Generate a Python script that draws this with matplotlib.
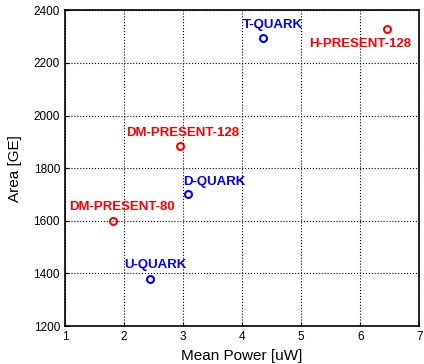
import matplotlib.pyplot as plt

plt.rcParams['font.family'] = ['Liberation Sans', 'DejaVu Sans']

names = ["T-QUARK", "H-PRESENT-128", "DM-PRESENT-128", "D-QUARK", "DM-PRESENT-80", "U-QUARK"]
power = [4.35, 6.45, 2.95, 3.09, 1.82, 2.44]
area = [2295, 2328, 1884, 1702, 1600, 1379]
colors = ["blue", "red", "red", "blue", "red", "blue"]
# label offsets in points (dx, dy)
offsets = [(7, 9.5), (-19, -11), (1.5, 9.5), (19, 8.5), (6, 10), (4, 10)]

fig = plt.figure(figsize=(4.24, 3.64), dpi=100)
ax = fig.add_axes([0.153, 0.104, 0.836, 0.868])

for x, y, n, c, off in zip(power, area, names, colors, offsets):
    ax.plot(x, y, 'o', mfc='none', mec=c, ms=5, mew=1.5)
    ax.annotate(n, (x, y), xytext=off, textcoords='offset points',
                ha='center', va='center', color=c, fontsize=9.5, fontweight='bold')

ax.set_xlim(1, 7)
ax.set_ylim(1200, 2400)
ax.set_xticks(range(1, 8))
ax.set_yticks(range(1200, 2401, 200))
ax.grid(True, color='black', linestyle=':', linewidth=0.8)
ax.tick_params(direction='in', labelsize=8.5, length=3)
ax.set_xlabel("Mean Power [uW]", fontsize=11, labelpad=4)
ax.set_ylabel("Area [GE]", fontsize=11, labelpad=8)
for s in ax.spines.values():
    s.set_linewidth(1.2)

fig.savefig("out.png", dpi=100)
